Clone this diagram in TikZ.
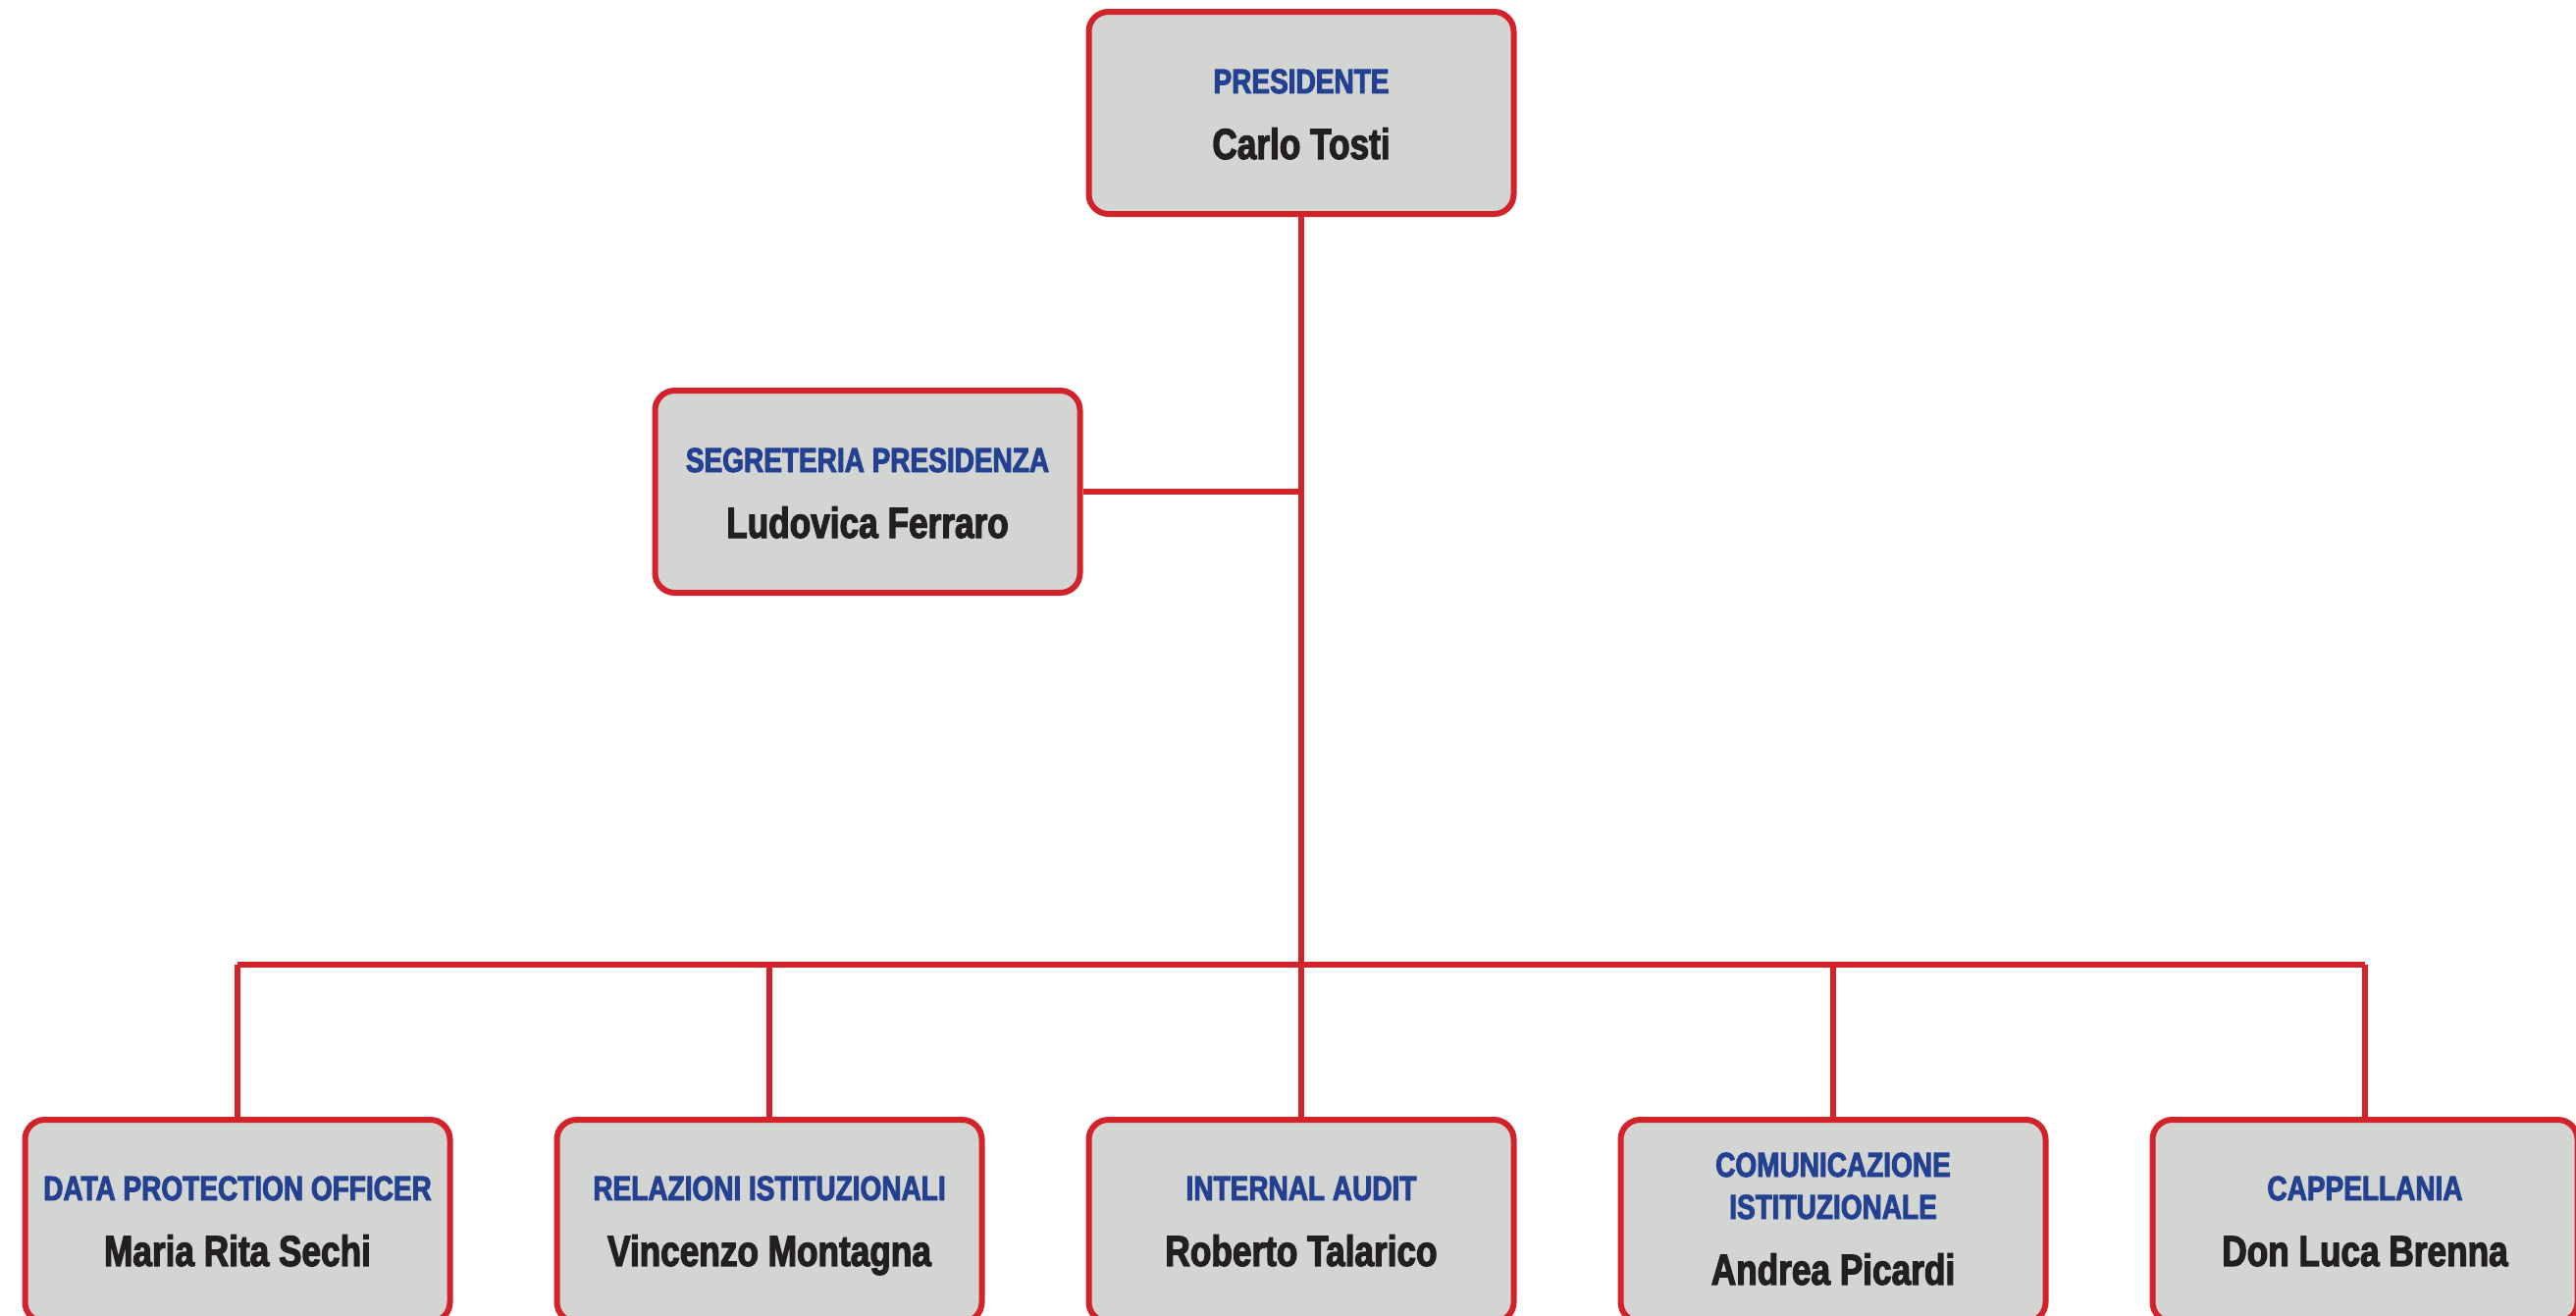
\documentclass[tikz,border=0pt]{standalone}
\usepackage{fontspec}
\newfontfamily\cond{Liberation Sans}[FakeStretch=0.8, FakeBold=2.6]
\definecolor{boxred}{RGB}{210,35,42}
\definecolor{boxfill}{RGB}{211,213,210}
\definecolor{titleblue}{RGB}{35,64,145}
\definecolor{nameblack}{RGB}{35,31,32}
\begin{document}
\begin{tikzpicture}[x=0.5pt,y=-0.5pt,
  orgbox/.style={draw=boxred, fill=boxfill, line width=3pt, rounded corners=10pt,
    minimum width=216.5pt, minimum height=103pt, inner sep=0pt},
  titletext/.style={anchor=base, text=titleblue, font=\cond\bfseries\fontsize{17.5}{20}\selectfont, inner sep=0pt},
  nametext/.style={anchor=base, text=nameblack, font=\cond\bfseries\fontsize{22}{25}\selectfont, inner sep=0pt},
  conn/.style={draw=boxred, line width=2.7pt},
  busline/.style={draw=boxred, line width=3pt}]
\useasboundingbox (0,0) rectangle (2625,1340);
\clip (0,0) rectangle (2625,1340);
% boxes
\node[orgbox] (pres) at (1326,115) {};
\node[orgbox] (seg) at (884,501) {};
\node[orgbox] (b1) at (242,1244) {};
\node[orgbox] (b2) at (784,1244) {};
\node[orgbox] (b3) at (1326,1244) {};
\node[orgbox] (b4) at (1868,1244) {};
\node[orgbox] (b5) at (2410,1244) {};
% bus coordinates
\coordinate (busL) at (242,983);
\coordinate (busR) at (2410,983);
% connectors
\draw[busline] (b1.north |- busL) -- (b5.north |- busR);
\draw[conn] (pres.south) -- (b3.north);
\draw[conn] (seg.east) -- (seg.east -| pres.south);
\draw[conn] (b1.north) -- (b1.north |- busL);
\draw[conn] (b2.north) -- (b2.north |- busL);
\draw[conn] (b4.north) -- (b4.north |- busL);
\draw[conn] (b5.north) -- (b5.north |- busL);
% texts
\node[titletext] (t0) at (1326,95) {PRESIDENTE};
\node[nametext] (n0) at (1326,162) {Carlo Tosti};
\node[titletext] (ts) at (884,481) {SEGRETERIA PRESIDENZA};
\node[nametext] (ns) at (884,548) {Ludovica Ferraro};
\node[titletext] (t1) at (242,1223) {DATA PROTECTION OFFICER};
\node[nametext] (n1) at (242,1290) {Maria Rita Sechi};
\node[titletext] (t2) at (784,1223) {RELAZIONI ISTITUZIONALI};
\node[nametext] (n2) at (784,1290) {Vincenzo Montagna};
\node[titletext] (t3) at (1326,1223) {INTERNAL AUDIT};
\node[nametext] (n3) at (1326,1290) {Roberto Talarico};
\node[titletext] (t4a) at (1868,1199) {COMUNICAZIONE};
\node[titletext] (t4b) at (1868,1242) {ISTITUZIONALE};
\node[nametext] (n4) at (1868,1309) {Andrea Picardi};
\node[titletext] (t5) at (2410,1223) {CAPPELLANIA};
\node[nametext] (n5) at (2410,1290) {Don Luca Brenna};
\end{tikzpicture}
\end{document}
